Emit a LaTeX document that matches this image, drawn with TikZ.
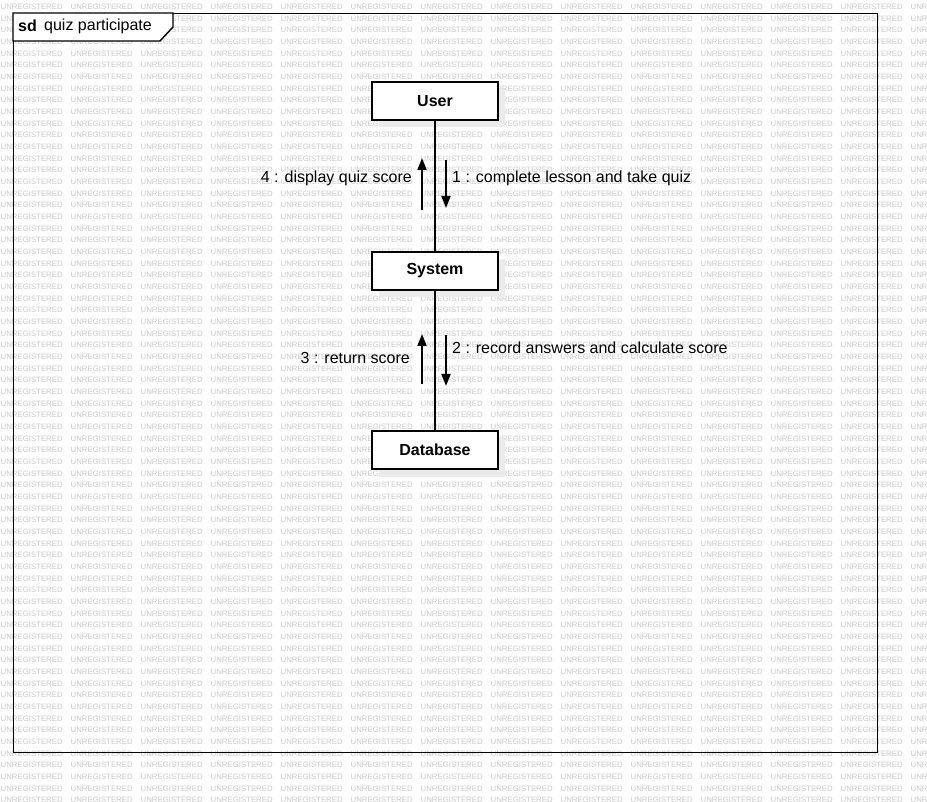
\documentclass[tikz,border=0pt]{standalone}
\usepackage{fontspec}
\setmainfont{Liberation Sans}
\usetikzlibrary{arrows.meta}
\begin{document}
\begin{tikzpicture}[x=1pt,y=-1pt,
  wm/.style={inner sep=0pt, anchor=west, text=black!21,
    font=\fontsize{7.8}{8}\selectfont},
  lifebox/.style={draw=black, line width=1.4pt, fill=white,
    minimum width=126pt, minimum height=38pt, inner sep=0pt,
    font=\fontsize{16}{19}\selectfont\bfseries},
  shade/.style={fill=black!8, draw=none},
  lifeline/.style={line width=2pt},
  msg/.style={line width=1.8pt, -{Triangle[length=12pt,width=9pt]}},
  msglabel/.style={inner sep=0pt, font=\fontsize{16}{19}\selectfont},
  framebox/.style={draw=black, line width=1.4pt}]
\useasboundingbox (0,0) rectangle (927,802);
\fill[white] (0,0) rectangle (927,802);

% background watermark grid (the last column is only partly on the page)
\foreach \r in {0,...,68}{
  \foreach \c in {0,...,12}{
    \node[wm] (wm-\r-\c) at (\c*70+0.5, 6.7+\r*11.67) {UNREGISTERED};
  }
  \node[wm] (wm-\r-13) at (910.5, 6.7+\r*11.67) {UNR};
}

% diagram frame and its name tab
\node[framebox, anchor=north west, minimum width=864pt, minimum height=739pt,
  inner sep=0pt] (frame) at (13,13) {};
\draw[framebox, fill=white] (frame.north west) -- (173,13) -- (173,27)
  -- (160,41) -- (13,41) -- cycle;
\node[msglabel, anchor=west] (sd) at (18,26) {\bfseries sd};
\node[msglabel, anchor=west] (title) at (44,26) {quiz participate};

% drop shadows of the lifelines' heads
\fill[shade] (379,89) rectangle (505,127);
\fill[shade] (379,259) rectangle (505,297);
\fill[shade] (379,439) rectangle (505,477);

% participants
\node[lifebox] (user) at (435,101) {User};
\node[lifebox] (system) at (435,271) {System};
\node[lifebox] (db) at (435,450) {Database};

\draw[lifeline] (user) -- (system);
\draw[lifeline] (system) -- (db);

% messages between User and System
\coordinate (m1s) at (446,160);
\coordinate (m1e) at (446,208);
\coordinate (m4s) at (422,210);
\coordinate (m4e) at (422,158);
\draw[msg] (m1s) -- (m1e);
\draw[msg] (m4s) -- (m4e);
\node[msglabel, anchor=west] (l1) at (452,178) {1 : complete lesson and take quiz};
\node[msglabel, anchor=east] (l4) at (412,178) {4 : display quiz score};

% messages between System and Database
\coordinate (m2s) at (446,335);
\coordinate (m2e) at (446,386);
\coordinate (m3s) at (422,384);
\coordinate (m3e) at (422,334);
\draw[msg] (m2s) -- (m2e);
\draw[msg] (m3s) -- (m3e);
\node[msglabel, anchor=west] (l2) at (452,348) {2 : record answers and calculate score};
\node[msglabel, anchor=east] (l3) at (410,358) {3 : return score};
\end{tikzpicture}
\end{document}
